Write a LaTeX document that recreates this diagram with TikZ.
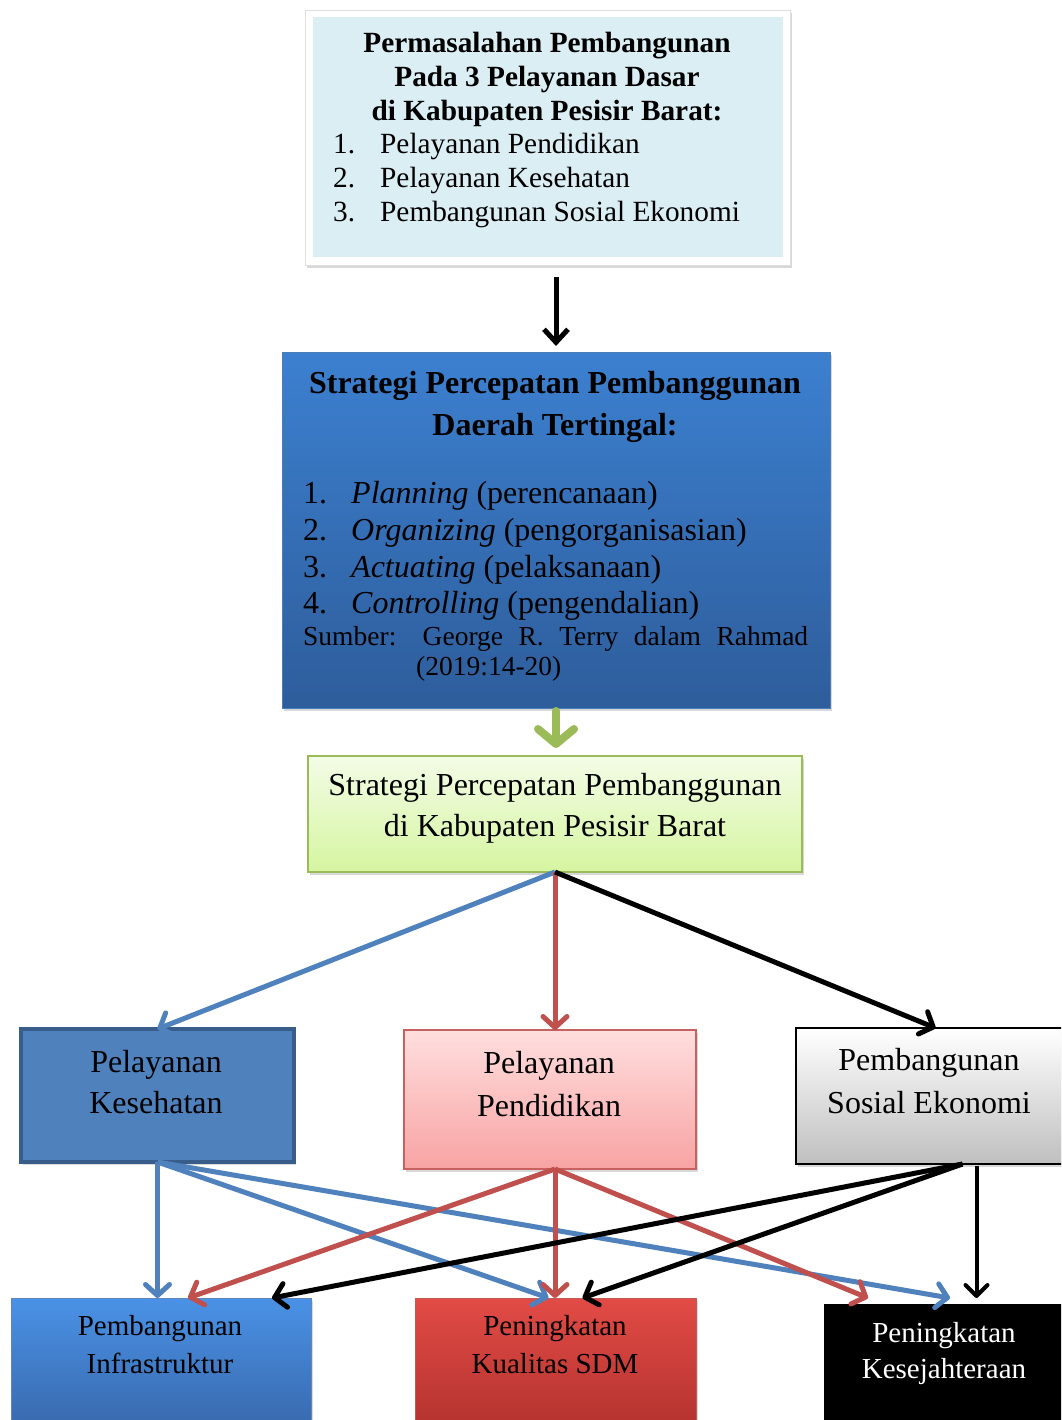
\documentclass[tikz,border=0pt]{standalone}
\usepackage{fontspec}
\setmainfont{Liberation Serif}
\usetikzlibrary{arrows.meta,shadows,calc}
\definecolor{topfill}{HTML}{DBEEF4}
\definecolor{stratTop}{HTML}{3C80D0}
\definecolor{stratBot}{HTML}{2E5D9B}
\definecolor{stratLine}{HTML}{4A7EBB}
\definecolor{grnA}{HTML}{9BBB59}
\definecolor{grnTop}{HTML}{F4FCE7}
\definecolor{grnBot}{HTML}{D5F5A0}
\definecolor{bl}{HTML}{4F81BD}
\definecolor{blDark}{HTML}{385D8A}
\definecolor{rd}{HTML}{C0504D}
\definecolor{pinkTop}{HTML}{FFDEDE}
\definecolor{pinkBot}{HTML}{F8A3A3}
\definecolor{infTop}{HTML}{4A92E6}
\definecolor{infBot}{HTML}{3868AC}
\definecolor{sdmTop}{HTML}{E24B46}
\definecolor{sdmBot}{HTML}{B3322E}
\tikzset{
  box/.style={inner sep=0pt, outer sep=0pt},
  shad/.style={drop shadow={opacity=0.3,shadow xshift=2pt,shadow yshift=-3pt}},
  fA/.style={font=\fontsize{29.3}{34}\selectfont},
  fAb/.style={font=\fontsize{29.3}{34}\selectfont\bfseries},
  fB/.style={font=\fontsize{32}{40}\selectfont},
  fBb/.style={font=\fontsize{32}{40}\selectfont\bfseries},
  fC/.style={font=\fontsize{32}{37}\selectfont},
  fD/.style={font=\fontsize{27.5}{31}\selectfont},
  fE/.style={font=\fontsize{32}{40}\selectfont},
  fF/.style={font=\fontsize{29}{36}\selectfont},
  arr/.style={line width=5pt, -{Straight Barb[length=11pt,width=24pt,round]}},
  bla/.style={arr, draw=bl},
  rda/.style={arr, draw=rd},
  bka/.style={arr, draw=black},
}
\begin{document}
\begin{tikzpicture}[x=1pt,y=-1pt]
\clip (0,0) rectangle (1061,1420);
\fill[white] (0,0) rectangle (1061,1420);

% top box
\node[box, draw=gray!25, fill=white, shad, minimum width=485pt, minimum height=255pt] (topframe) at (547.5,137.5) {};
\node[box, fill=topfill, minimum width=470pt, minimum height=240pt] (topin) at (548,137) {};
\node[fAb, anchor=base] (t1) at (547,53) {Permasalahan Pembangunan};
\node[fAb, anchor=base] (t2) at (547,87) {Pada 3 Pelayanan Dasar};
\node[fAb, anchor=base] (t3) at (547,121) {di Kabupaten Pesisir Barat:};
\node[fA, anchor=base west, inner sep=0] (t4) at (333,154) {\makebox[47pt][l]{1.}Pelayanan Pendidikan};
\node[fA, anchor=base west, inner sep=0] (t5) at (333,188) {\makebox[47pt][l]{2.}Pelayanan Kesehatan};
\node[fA, anchor=base west, inner sep=0] (t6) at (333,222) {\makebox[47pt][l]{3.}Pembangunan Sosial Ekonomi};

% strategy box
\node[box, draw=stratLine, line width=1pt, top color=stratTop, bottom color=stratBot, shad, minimum width=548pt, minimum height=356pt] (strat) at (556,530) {};
\node[fBb, anchor=base] (s1) at (555,393) {Strategi Percepatan Pembanggunan};
\node[fBb, anchor=base] (s2) at (555,435) {Daerah Tertingal:};
\node[fC, anchor=base west, inner sep=0] (s3) at (303,503) {\makebox[48pt][l]{1.}\textit{Planning} (perencanaan)};
\node[fC, anchor=base west, inner sep=0] (s4) at (303,540) {\makebox[48pt][l]{2.}\textit{Organizing} (pengorganisasian)};
\node[fC, anchor=base west, inner sep=0] (s5) at (303,577) {\makebox[48pt][l]{3.}\textit{Actuating} (pelaksanaan)};
\node[fC, anchor=base west, inner sep=0] (s6) at (303,613) {\makebox[48pt][l]{4.}\textit{Controlling} (pengendalian)};
\node[fD, anchor=base west, inner sep=0] (s7) at (303,645) {\makebox[505pt][s]{Sumber: George R. Terry dalam Rahmad}};
\node[fD, anchor=base west, inner sep=0] (s8) at (416,675) {(2019:14-20)};

% green box
\node[box, draw=grnA, line width=1.5pt, top color=grnTop, bottom color=grnBot, shad, minimum width=494pt, minimum height=116pt] (green) at (555,814) {};
\node[fB, anchor=base] (g1) at (555,795) {Strategi Percepatan Pembanggunan};
\node[fB, anchor=base] (g2) at (555,836) {di Kabupaten Pesisir Barat};

% middle row
\node[box, draw=blDark, line width=4pt, fill=bl, shad, minimum width=273pt, minimum height=133pt] (midL) at (157.5,1095.5) {};
\node[fE, anchor=base] (l1) at (156,1072) {Pelayanan};
\node[fE, anchor=base] (l2) at (156,1113) {Kesehatan};
\node[box, draw=rd!90, line width=1.5pt, top color=pinkTop, bottom color=pinkBot, shad, minimum width=292pt, minimum height=139pt] (midM) at (550,1099.5) {};
\node[fE, anchor=base] (m1) at (549,1073) {Pelayanan};
\node[fE, anchor=base] (m2) at (549,1116) {Pendidikan};
\node[box, draw=black, line width=1.5pt, top color=white, bottom color=gray!50, shad, minimum width=279pt, minimum height=136pt] (midR) at (935.5,1096) {};
\node[fE, anchor=base] (r1) at (929,1070) {Pembangunan};
\node[fE, anchor=base] (r2) at (929,1113) {Sosial Ekonomi};

% bottom row
\node[box, draw=infBot!80, line width=1pt, top color=infTop, bottom color=infBot, shad, minimum width=300pt, minimum height=132pt] (infra) at (161,1364) {};
\node[fF, anchor=base] (b1) at (160,1335) {Pembangunan};
\node[fF, anchor=base] (b2) at (160,1373) {Infrastruktur};
\node[box, draw=sdmBot!80, line width=1pt, top color=sdmTop, bottom color=sdmBot, shad, minimum width=281pt, minimum height=132pt] (sdm) at (555.5,1364) {};
\node[fF, anchor=base] (c1) at (555,1335) {Peningkatan};
\node[fF, anchor=base] (c2) at (555,1373) {Kualitas SDM};
\node[box, fill=black, minimum width=251pt, minimum height=126pt] (kes) at (949.5,1367) {};
\node[fF, anchor=base, text=white] (k1) at (944,1342) {Peningkatan};
\node[fF, anchor=base, text=white] (k2) at (944,1378) {Kesejahteraan};

% connectors top
\draw[line width=5pt, -{Straight Barb[length=13pt,width=24pt]}, shorten <=12pt, shorten >=6pt] (topframe.south -| strat.north) -- (strat.north);
\draw[draw=grnA, line width=8pt, line cap=round, -{Straight Barb[length=15pt,width=36pt,round]}, shorten <=3pt, shorten >=8pt] (strat.south) -- (strat.south |- green.north);

% from green
\draw[bla] (green.south) -- (midL.north);
\draw[rda] (green.south) -- (green.south |- midM.north);
\draw[bka] (green.south) -- (midR.north);

% coordinates
\coordinate (rS) at ($(midR.south)+(27,0)$);
\coordinate (rS2) at ($(midR.south)+(41,2)$);
\coordinate (mS) at ($(midM.south)+(5,0)$);
\coordinate (infB) at ($(infra.north)+(27,0)$);
\coordinate (infK) at ($(infra.north)+(111,0)$);
\coordinate (sdmB) at ($(sdm.north)+(-7,0)$);
\coordinate (sdmK) at ($(sdm.north)+(27,0)$);
\coordinate (kesR) at ($(kes.north)+(-81.5,-6)$);
\coordinate (kesB) at ($(kes.north)+(0.5,-6)$);
\coordinate (kesK) at ($(kes.north)+(27.5,-6)$);

% from middle row
\draw[bla] (midL.south) -- (midL.south |- infra.north);
\draw[bla] (midL.south) -- (sdmB);
\draw[bla] (midL.south) -- (kesB);
\draw[rda] (mS) -- (infB);
\draw[rda] (mS) -- (mS |- sdm.north);
\draw[rda] (mS) -- (kesR);
\draw[bka] (rS) -- (infK);
\draw[bka] (rS) -- (sdmK);
\draw[line width=4pt, -{Straight Barb[length=11pt,width=22pt,round]}] (rS2) -- (rS2 |- kesK);
\end{tikzpicture}
\end{document}
